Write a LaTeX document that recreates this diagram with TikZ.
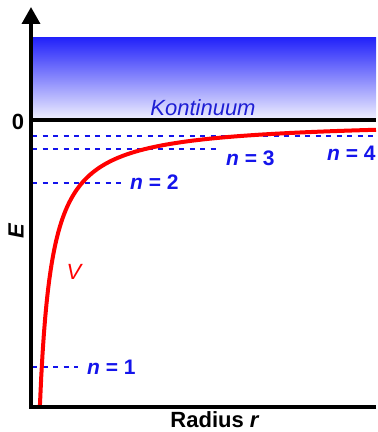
\documentclass[tikz,border=0pt]{standalone}
\usepackage{fontspec}
\setmainfont{Liberation Sans}
\usetikzlibrary{arrows.meta}
\definecolor{levelblue}{RGB}{20,20,235}
\definecolor{contblue}{RGB}{35,35,250}
\definecolor{potred}{RGB}{255,0,0}

\begin{document}
\begin{tikzpicture}[x=1pt,y=1pt,
  axis/.style={line width=3.5pt},
  level/.style={draw=levelblue,line width=2.8pt,dash pattern=on 5pt off 5.5pt},
  lbl/.style={text=levelblue,anchor=west,inner sep=0pt,
    font=\fontsize{21}{23}\selectfont\bfseries},
  ax/.style={font=\fontsize{22}{24}\selectfont\bfseries,inner sep=0pt}]
  \useasboundingbox (0,0) rectangle (378,432);
  % continuum above zero
  \shade[top color=contblue,bottom color=contblue!6] (32,312) rectangle (376,394);
  \coordinate (o) at (31,25);
  \coordinate (ytop) at (31,425);
  \coordinate (xend) at (376,25);
  \coordinate (zl) at (31,312);
  \coordinate (zr) at (376,312);
  % bound levels
  \node[lbl] (n1) at (87,65) {\textit{n} = 1};
  \node[lbl] (n2) at (130,250) {\textit{n} = 2};
  \node[lbl] (n3) at (226,274) {\textit{n} = 3};
  \node[lbl] (n4) at (327,279) {\textit{n} = 4};
  \foreach \n/\y/\xe in {1/65/78,2/249/121,3/283/219,4/296/376} {
    \coordinate (a\n) at (32,\y);
    \coordinate (b\n) at (\xe,\y);
    \draw[level] (a\n) -- (b\n);
  }
  % potential
  \draw[potred,line width=4pt] plot[domain=39.85:376,samples=250]
    (\x,{312-3400/(\x-28)});
  \node[text=potred,font=\fontsize{22}{24}\selectfont\itshape] (v) at (74,160) {V};
  % axes
  \draw[axis,-{Triangle[width=18pt,length=17pt]}] (xend) -- (o) -- (ytop);
  \draw[axis] (zl) -- (zr);
  \node[ax] (zero) at (18,310) {0};
  \node[ax,rotate=90] (e) at (16,201) {\itshape E};
  \node[ax,anchor=base] (rad) at (215,5) {Radius \textit{r}};
  \node[text=contblue!85!black,anchor=base,inner sep=0pt,
    font=\fontsize{22}{24}\selectfont\itshape] (kont) at (203,316) {Kontinuum};
\end{tikzpicture}
\end{document}
